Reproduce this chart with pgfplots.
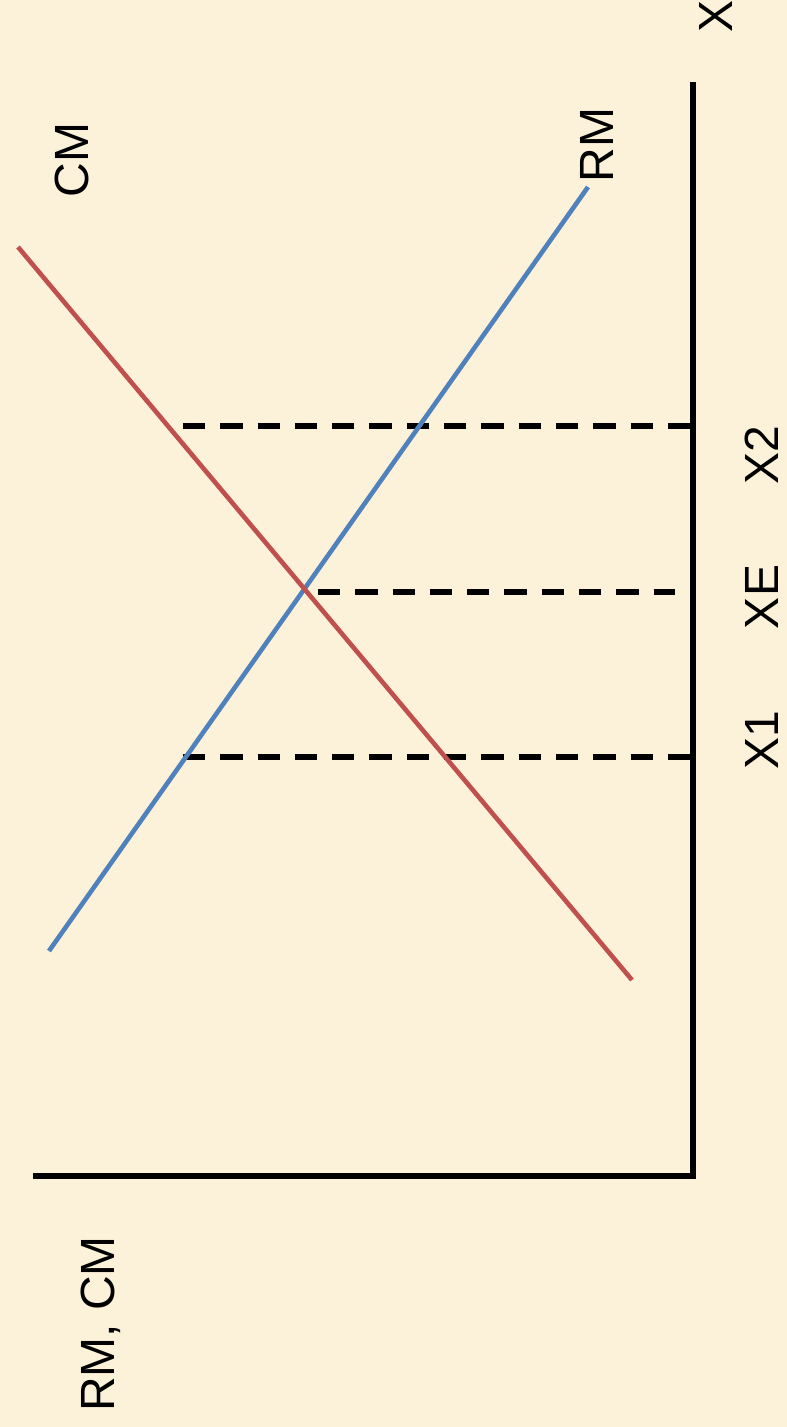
\documentclass[border=0pt]{standalone}
\usepackage{fontspec}
\setmainfont{Liberation Sans}
\usepackage{pgfplots}
\pgfplotsset{compat=1.18}
\definecolor{bg}{RGB}{252,241,217}
\definecolor{rmblue}{HTML}{4F81BD}
\definecolor{cmred}{HTML}{C0504D}
\tikzset{lab/.style={font=\fontsize{12}{14}\selectfont, rotate=90, inner sep=0pt, anchor=center}}
\begin{document}
\begin{tikzpicture}
\begin{axis}[
  scale only axis,
  width=196.75pt, height=356.75pt,
  x dir=reverse,
  xmin=-94, xmax=693,
  ymin=-251, ymax=1176,
  axis line style={draw=none},
  ticks=none,
  axis background/.style={fill=bg},
  clip=false,
]
% axes
\addplot[black, line width=1.3pt] coordinates {(0,1094) (0,0) (660,0)};
% dashed guides
\addplot[black, line width=1.3pt, dash pattern=on 5.575pt off 3.75pt] coordinates {(510,750) (0,750)};
\addplot[black, line width=1.3pt, dash pattern=on 5.575pt off 3.75pt] coordinates {(375,584) (18,584)};
\addplot[black, line width=1.3pt, dash pattern=on 5.575pt off 3.75pt] coordinates {(510,419) (0,419)};
% RM (blue)
\addplot[rmblue, line width=1.15pt] coordinates {(644,225) (105,989)};
% CM (red)
\addplot[cmred, line width=1.15pt] coordinates {(675,929) (61,196)};
% labels
\node[lab] at (axis cs:621,1016) {CM};
\node[lab] at (axis cs:96,1031) {RM};
\node[lab] at (axis cs:-23,1160) {X};
\node[lab] at (axis cs:-69,721) {X2};
\node[lab] at (axis cs:-69,579) {XE};
\node[lab] at (axis cs:-69,436) {X1};
\node[lab] at (axis cs:592,-148) {RM, CM};
\end{axis}
\pgfresetboundingbox
\path (current axis.south west) rectangle (current axis.north east);
\end{tikzpicture}
\end{document}
